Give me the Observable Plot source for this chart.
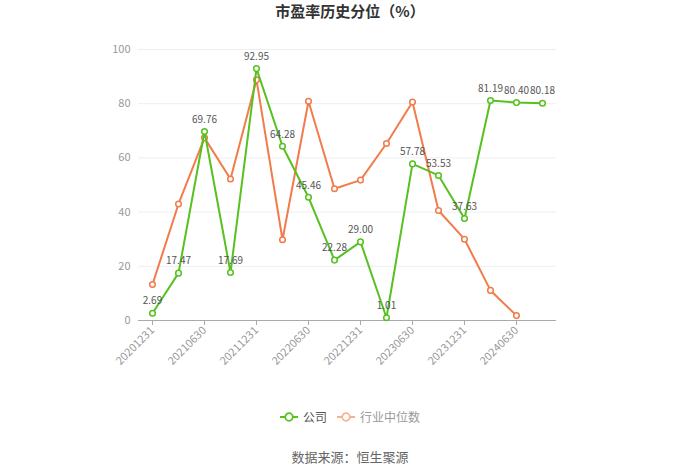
<!DOCTYPE html>
<html>
<head>
<meta charset="utf-8">
<script src="https://cdn.jsdelivr.net/npm/d3@7"></script>
<script src="https://cdn.jsdelivr.net/npm/@observablehq/plot@0.6"></script>
<style>
  body { margin: 0; background: #fff; font-family: "Noto Sans CJK SC", "Noto Sans", sans-serif; }
  #wrap { position: relative; width: 700px; height: 473px; overflow: hidden; }
  #title { position: absolute; top: 0px; left: 0; width: 700px; text-align: center; font-size: 15px; font-weight: bold; color: #333; }
  #chart { position: absolute; top: 30px; left: 0; }
  #legend { position: absolute; top: 408px; left: 0; width: 700px; display: flex; justify-content: center; align-items: center; font-size: 12px; }
  .item { display: flex; align-items: center; margin: 0 5px; }
  .item svg { margin-right: 5px; }
  #caption { position: absolute; top: 447px; left: 0; width: 700px; text-align: center; font-size: 13px; color: #666; }
</style>
</head>
<body>
<div id="wrap">
  <div id="title">市盈率历史分位（%）</div>
  <div id="chart"></div>
  <div id="legend"></div>
  <div id="caption">数据来源：恒生聚源</div>
</div>
<script>
const dates = ["20201231","20210331","20210630","20210930","20211231","20220331","20220630","20220930","20221231","20230331","20230630","20230930","20231231","20240331","20240630","20240930"];
const companyValues = [2.69,17.47,69.76,17.69,92.95,64.28,45.46,22.28,29.00,1.01,57.78,53.53,37.63,81.19,80.40,80.18];
const industryValues = [13.3,43.0,67.4,52.2,88.8,29.8,80.9,48.6,51.8,65.3,80.6,40.6,30.0,11.1,1.8];
const tickLabels = ["20201231","20210630","20211231","20220630","20221231","20230630","20231231","20240630"];
const yTicks = [0,20,40,60,80,100];
const seriesNames = ["公司","行业中位数"];

const green = "#56c11f";
const orange = "#f27b4b";

const company = dates.map((d,i) => ({date: d, value: companyValues[i]}));
const industry = industryValues.map((v,i) => ({date: dates[i], value: v}));

const chart = Plot.plot({
  width: 700,
  height: 370,
  marginTop: 19,
  marginBottom: 80,
  marginLeft: 138,
  marginRight: 144,
  style: { fontFamily: "'Noto Sans CJK SC', 'Noto Sans', sans-serif", background: "transparent" },
  x: { type: "point", domain: dates, padding: 0.5 },
  y: { domain: [0, 100] },
  marks: [
    Plot.gridY(yTicks, { stroke: "#eeeeee", strokeOpacity: 1 }),
    Plot.axisY(yTicks, { tickSize: 0, tickPadding: 8, fontSize: 11, color: "#999", label: null }),
    Plot.ruleY([0], { stroke: "#aaa", strokeWidth: 1 }),
    Plot.axisX(tickLabels, { tickSize: 5, stroke: "#aaa", tickRotate: -45, fontSize: 11, color: "#999", label: null, tickPadding: 3 }),
    Plot.line(industry, { x: "date", y: "value", stroke: orange, strokeWidth: 2 }),
    Plot.dot(industry, { x: "date", y: "value", r: 2.8, stroke: orange, fill: "white", strokeWidth: 1.5 }),
    Plot.line(company, { x: "date", y: "value", stroke: green, strokeWidth: 2 }),
    Plot.dot(company, { x: "date", y: "value", r: 2.8, stroke: green, fill: "white", strokeWidth: 1.5 }),
    Plot.text(company, { x: "date", y: "value", text: d => d.value.toFixed(2), dy: -12, fontSize: 10, fill: "#555" })
  ]
});
document.getElementById("chart").appendChild(chart);

const legendColors = [green, "#f7b193"];
const legendText = ["#555", "#999"];
const legend = document.getElementById("legend");
seriesNames.forEach((name, i) => {
  const item = document.createElement("div");
  item.className = "item";
  item.innerHTML = `<svg width="18" height="10"><line x1="0" y1="5" x2="18" y2="5" stroke="${legendColors[i]}" stroke-width="2"/><circle cx="9" cy="5" r="3.8" fill="white" stroke="${legendColors[i]}" stroke-width="1.8"/></svg><span style="color:${legendText[i]}">${name}</span>`;
  legend.appendChild(item);
});
</script>
</body>
</html>
